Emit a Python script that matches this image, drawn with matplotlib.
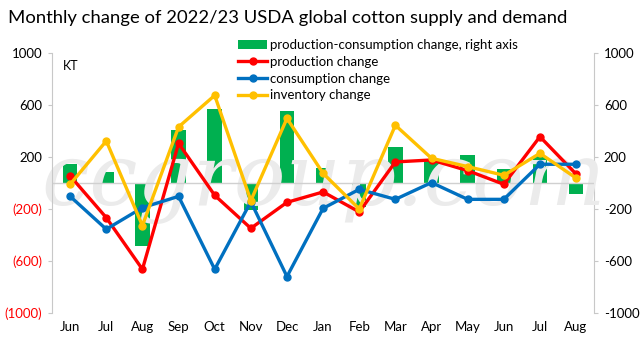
import matplotlib
matplotlib.use('Agg')
from matplotlib import pyplot as plt
import numpy as np

plt.rcParams['font.family'] = ['Lato', 'DejaVu Sans']

months = ['Jun', 'Jul', 'Aug', 'Sep', 'Oct', 'Nov', 'Dec', 'Jan', 'Feb',
          'Mar', 'Apr', 'May', 'Jun', 'Jul', 'Aug']
# production-consumption change (right axis), KT
net = [146, 85, -485, 410, 572, -208, 556, 118, -182, 279, 174, 215, 108, 205, -82]
production = [54, -267, -664, 305, -95, -349, -149, -69, -223, 162, 177, 95, -10, 356, 69]
consumption = [-103, -356, -190, -103, -664, -144, -720, -195, -49, -126, 3, -126, -126, 144, 144]
inventory = [-10, 323, -328, 431, 674, -136, 497, 74, -200, 444, 190, 126, 59, 228, 38]

ticks = [1000, 600, 200, -200, -600, -1000]

fig = plt.figure(figsize=(6.43, 3.42), dpi=100)
ax1 = fig.add_axes([0.081, 0.085, 0.843, 0.76])
ax2 = ax1.twinx()
x = np.arange(len(months))

# bars on right axis, drawn behind lines
bars = ax2.bar(x, net, width=0.4, color='#00B050', label='production-consumption change, right axis')
ax1.set_zorder(ax2.get_zorder() + 1)
ax1.patch.set_visible(False)

ax1.axhline(0, color='#d0d0d0', lw=1, zorder=1)
lw, ms = 2.4, 5
l1, = ax1.plot(x, production, color='#FF0000', lw=lw, marker='o', ms=ms, label='production change', zorder=3)
l2, = ax1.plot(x, consumption, color='#0070C0', lw=lw, marker='o', ms=ms, label='consumption change', zorder=3)
l3, = ax1.plot(x, inventory, color='#FFC000', lw=lw, marker='o', ms=ms, label='inventory change', zorder=4)

for ax in (ax1, ax2):
    ax.set_ylim(-1000, 1000)
    ax.set_xlim(-0.5, len(months) - 0.5)
    ax.set_yticks(ticks)
    for s in ['top', 'bottom']:
        ax.spines[s].set_visible(False)
    ax.tick_params(axis='y', length=3, color='#c8c8c8', labelsize=9.5, pad=4)

ax1.spines['right'].set_visible(False)
ax2.spines['left'].set_visible(False)
ax1.spines['left'].set_color('#c8c8c8')
ax2.spines['right'].set_color('#c8c8c8')

ax1.set_yticklabels(['1000', '600', '200', '(200)', '(600)', '(1000)'])
for t, v in zip(ax1.get_yticklabels(), ticks):
    t.set_color('red' if v < 0 else 'black')
ax2.set_yticklabels([str(v) for v in ticks])

ax1.set_xticks(x)
ax1.set_xticklabels(months, fontsize=9.5)
ax1.tick_params(axis='x', length=0, pad=6)

ax1.text(0.02, 0.975, 'KT', transform=ax1.transAxes, fontsize=9, va='top', ha='left')

# watermark
ax1.text(0.5, 0.5, 'ccgroup.com', transform=ax1.transAxes, fontsize=62, style='italic',
         family='DejaVu Serif', color='#ebebeb', ha='center', va='center', zorder=0)

handles = [bars, l1, l2, l3]
labels = ['production-consumption change, right axis', 'production change',
          'consumption change', 'inventory change']
leg = fig.legend(handles, labels, loc='upper left',
                 bbox_to_anchor=(0.362, 0.9), frameon=False, fontsize=9.5,
                 handlelength=2.2, handletextpad=0.2, labelspacing=0.35, borderaxespad=0)

fig.text(0.012, 0.97, 'Monthly change of 2022/23 USDA global cotton supply and demand',
         fontsize=13.3, va='top', ha='left')

fig.savefig('out.png', dpi=100)
